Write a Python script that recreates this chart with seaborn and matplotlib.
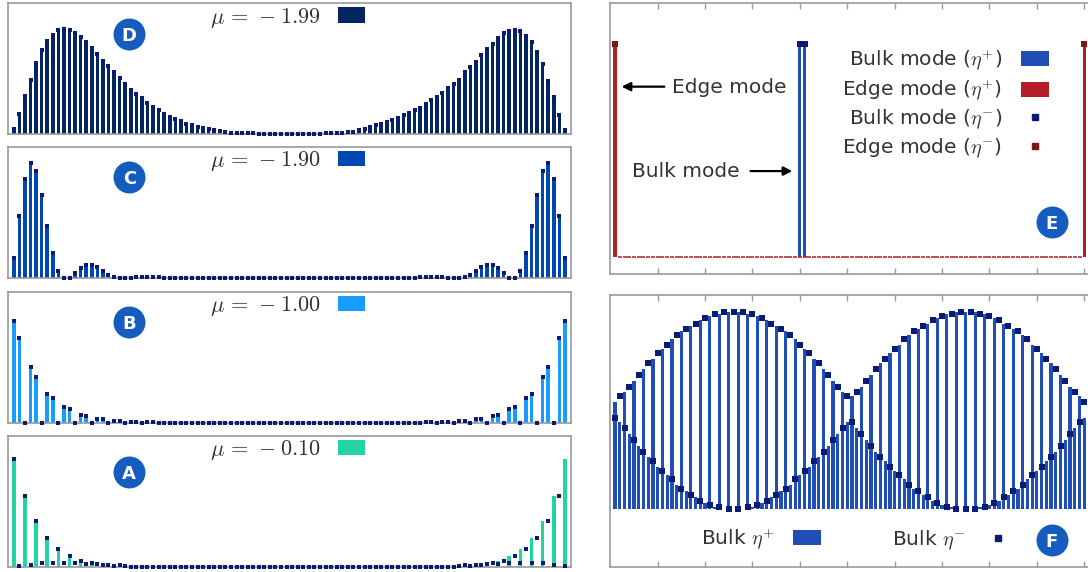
import pandas as pd
import seaborn as sns
import matplotlib.pyplot as plt
from matplotlib.patches import Patch
from matplotlib.lines import Line2D

sites = list(range(1, 101))

# ---- left column: |psi|^2 along the chain for four mu values ----
d_vals = [0.05, 0.19, 0.36, 0.52, 0.68, 0.80, 0.89, 0.95, 0.99, 1.00,
          0.99, 0.96, 0.93, 0.88, 0.82, 0.76, 0.70, 0.65, 0.59, 0.53,
          0.48, 0.42, 0.38, 0.34, 0.30, 0.26, 0.23, 0.19, 0.165, 0.14,
          0.12, 0.10, 0.087, 0.07, 0.058, 0.048, 0.04, 0.03, 0.02, 0.013,
          0.01, 0.008, 0.006, 0.005, 0.004, 0.003, 0.003, 0.002, 0.002, 0.002,
          0.002, 0.002, 0.002, 0.003, 0.003, 0.004, 0.005, 0.006, 0.008, 0.01,
          0.015, 0.023, 0.04, 0.052, 0.065, 0.084, 0.097, 0.115, 0.135, 0.15,
          0.18, 0.20, 0.23, 0.25, 0.29, 0.32, 0.35, 0.39, 0.44, 0.48,
          0.52, 0.59, 0.64, 0.69, 0.75, 0.81, 0.86, 0.92, 0.96, 0.98,
          0.99, 0.98, 0.94, 0.88, 0.78, 0.67, 0.51, 0.35, 0.18, 0.04]

c_vals = [0.175, 0.544, 0.86, 1.0, 0.93, 0.72, 0.456, 0.22, 0.06, 0.003,
          0.0, 0.044, 0.085, 0.114, 0.114, 0.096, 0.06, 0.03, 0.01, 0.0,
          0.0, 0.003, 0.005, 0.012, 0.012, 0.01, 0.005, 0.004, 0.003, 0.002,
          0.001, 0.001, 0.001, 0.001, 0.001, 0.0, 0.0, 0.0, 0.0, 0.0,
          0.0, 0.0, 0.0, 0.0, 0.0, 0.0, 0.0, 0.0, 0.0, 0.0,
          0.0, 0.0, 0.0, 0.0, 0.0, 0.0, 0.0, 0.0, 0.0, 0.0,
          0.0, 0.0, 0.0, 0.0, 0.0, 0.001, 0.001, 0.001, 0.001, 0.001,
          0.002, 0.003, 0.004, 0.005, 0.01, 0.012, 0.012, 0.005, 0.003, 0.0,
          0.0, 0.01, 0.03, 0.06, 0.096, 0.114, 0.114, 0.085, 0.044, 0.0,
          0.003, 0.06, 0.22, 0.456, 0.72, 0.93, 1.0, 0.86, 0.544, 0.175]

b_vals = [1.0, 0.83, 0.0, 0.543, 0.454, 0.0, 0.285, 0.245, 0.0, 0.156,
          0.136, 0.0, 0.076, 0.066, 0.0, 0.036, 0.036, 0.0, 0.017, 0.017,
          0.0, 0.007, 0.007, 0.0, 0.003, 0.003, 0.0, 0.001, 0.001, 0.0,
          0.0, 0.0, 0.0, 0.0, 0.0, 0.0, 0.0, 0.0, 0.0, 0.0,
          0.0, 0.0, 0.0, 0.0, 0.0, 0.0, 0.0, 0.0, 0.0, 0.0,
          0.0, 0.0, 0.0, 0.0, 0.0, 0.0, 0.0, 0.0, 0.0, 0.0,
          0.0, 0.0, 0.0, 0.0, 0.0, 0.0, 0.0, 0.0, 0.0, 0.0,
          0.0, 0.001, 0.001, 0.0, 0.003, 0.003, 0.0, 0.007, 0.007, 0.0,
          0.017, 0.017, 0.0, 0.036, 0.036, 0.0, 0.066, 0.076, 0.0, 0.136,
          0.156, 0.0, 0.245, 0.285, 0.0, 0.454, 0.543, 0.0, 0.83, 1.0]

a_plus = [1.0, 0.0, 0.66, 0.0, 0.43, 0.0, 0.27, 0.0, 0.17, 0.0,
          0.105, 0.0, 0.055, 0.0, 0.02, 0.0, 0.01, 0.0, 0.005, 0.0,
          0.003, 0.0, 0.001, 0.0, 0.0, 0.0, 0.0, 0.0, 0.0, 0.0,
          0.0, 0.0, 0.0, 0.0, 0.0, 0.0, 0.0, 0.0, 0.0, 0.0,
          0.0, 0.0, 0.0, 0.0, 0.0, 0.0, 0.0, 0.0, 0.0, 0.0,
          0.0, 0.0, 0.0, 0.0, 0.0, 0.0, 0.0, 0.0, 0.0, 0.0,
          0.0, 0.0, 0.0, 0.0, 0.0, 0.0, 0.0, 0.0, 0.0, 0.0,
          0.0, 0.0, 0.0, 0.0, 0.0, 0.0, 0.0, 0.001, 0.0, 0.003,
          0.0, 0.005, 0.0, 0.01, 0.0, 0.02, 0.0, 0.055, 0.0, 0.105,
          0.0, 0.17, 0.0, 0.27, 0.0, 0.43, 0.0, 0.66, 0.0, 1.0]

a_minus = [1.0, 0.01, 0.66, 0.025, 0.43, 0.04, 0.27, 0.04, 0.17, 0.04,
           0.105, 0.04, 0.055, 0.03, 0.04, 0.03, 0.025, 0.025, 0.015, 0.025,
           0.015, 0.0, 0.005, 0.0, 0.0, 0.0, 0.0, 0.0, 0.0, 0.0,
           0.0, 0.0, 0.0, 0.0, 0.0, 0.0, 0.0, 0.0, 0.0, 0.0,
           0.0, 0.0, 0.0, 0.0, 0.0, 0.0, 0.0, 0.0, 0.0, 0.0,
           0.0, 0.0, 0.0, 0.0, 0.0, 0.0, 0.0, 0.0, 0.0, 0.0,
           0.0, 0.0, 0.0, 0.0, 0.0, 0.0, 0.0, 0.0, 0.0, 0.0,
           0.0, 0.0, 0.0, 0.0, 0.0, 0.0, 0.0, 0.0, 0.005, 0.0,
           0.015, 0.025, 0.015, 0.025, 0.025, 0.03, 0.04, 0.03, 0.055, 0.04,
           0.105, 0.04, 0.17, 0.04, 0.27, 0.04, 0.43, 0.025, 0.66, 0.01, 1.0][:100]

mu_labels = ["-1.99", "-1.90", "-1.00", "-0.10"]
panel_letters = ["D", "C", "B", "A"]
bar_colors = ["#012660", "#0047b2", "#189cff", "#22d5a0"]
left_values = [(d_vals, d_vals), (c_vals, c_vals), (b_vals, b_vals), (a_plus, a_minus)]
left_ytop = [1.248, 1.145, 1.288, 1.215]

# ---- panel E: edge vs bulk mode ----
edge_plus = [1.0] + [0.0] * 98 + [1.0]
edge_minus = [1.0] + [0.0] * 98 + [1.0]
bulk_plus = [0.0] * 39 + [1.0, 1.0] + [0.0] * 59
bulk_minus = [0.0] * 39 + [1.0, 1.0] + [0.0] * 59

# ---- panel F: a bulk mode, eta+ (bars) and eta- (markers) ----
f_plus = [0.54, 0.44, 0.59, 0.38, 0.65, 0.32, 0.71, 0.26, 0.76, 0.21,
          0.81, 0.17, 0.86, 0.12, 0.90, 0.09, 0.93, 0.06, 0.96, 0.03,
          0.98, 0.01, 0.99, 0.00, 1.00, 0.00, 1.00, 0.00, 0.99, 0.01,
          0.98, 0.03, 0.96, 0.06, 0.93, 0.09, 0.90, 0.12, 0.86, 0.17,
          0.81, 0.21, 0.76, 0.26, 0.71, 0.32, 0.65, 0.38, 0.59, 0.44,
          0.57, 0.41, 0.62, 0.35, 0.68, 0.29, 0.74, 0.24, 0.79, 0.19,
          0.83, 0.15, 0.88, 0.10, 0.91, 0.07, 0.94, 0.04, 0.97, 0.02,
          0.99, 0.01, 1.00, 0.00, 1.00, 0.00, 1.00, 0.01, 0.99, 0.02,
          0.97, 0.04, 0.94, 0.07, 0.91, 0.10, 0.88, 0.15, 0.83, 0.19,
          0.79, 0.24, 0.74, 0.29, 0.68, 0.35, 0.62, 0.41, 0.57, 0.46]
f_minus = [0.46, 0.57, 0.41, 0.62, 0.35, 0.68, 0.29, 0.74, 0.24, 0.79,
           0.19, 0.83, 0.15, 0.88, 0.10, 0.91, 0.07, 0.94, 0.04, 0.97,
           0.02, 0.99, 0.01, 1.00, 0.00, 1.00, 0.00, 1.00, 0.01, 0.99,
           0.02, 0.97, 0.04, 0.94, 0.07, 0.91, 0.10, 0.88, 0.15, 0.83,
           0.19, 0.79, 0.24, 0.74, 0.29, 0.68, 0.35, 0.62, 0.41, 0.57,
           0.44, 0.59, 0.38, 0.65, 0.32, 0.71, 0.26, 0.76, 0.21, 0.81,
           0.17, 0.86, 0.12, 0.90, 0.09, 0.93, 0.06, 0.96, 0.03, 0.98,
           0.01, 0.99, 0.00, 1.00, 0.00, 1.00, 0.00, 0.99, 0.01, 0.98,
           0.03, 0.96, 0.06, 0.93, 0.09, 0.90, 0.12, 0.86, 0.17, 0.81,
           0.21, 0.76, 0.26, 0.71, 0.32, 0.65, 0.38, 0.59, 0.44, 0.54]

navy = "#0b1a74"
blue = "#1f4fb4"
red = "#b31d26"
dark_red = "#7b1a12"
badge_c = "#165cbf"
text_c = "#333333"
W, H = 1088, 572

sns.set_style("white")
plt.rcParams["font.family"] = ["DejaVu Sans"]
plt.rcParams["mathtext.fontset"] = "cm"
plt.rcParams["axes.edgecolor"] = "#9a9a9a"
plt.rcParams["axes.linewidth"] = 1.2

fig = plt.figure(figsize=(W / 100, H / 100), dpi=100)


def px_axes(left, top, right, bottom):
    return fig.add_axes([left / W, 1 - bottom / H, (right - left) / W, (bottom - top) / H])


def badge(ax, x, y, letter):
    ax.scatter([x], [y], s=530, color=badge_c, linewidth=0, transform=ax.transAxes,
               clip_on=False, zorder=6)
    ax.text(x, y, letter, color="white", fontweight="bold", fontsize=13, ha="center",
            va="center_baseline", transform=ax.transAxes, zorder=7)


left_boxes = [(3.3, 134), (146.7, 278), (291.7, 422.7), (435.7, 567.3)]
badge_ys = [0.763, 0.771, 0.771, 0.726]

for k in range(4):
    top, bottom = left_boxes[k]
    ax = px_axes(8.3, top, 570.5, bottom)
    plus, minus = left_values[k]
    df = pd.DataFrame({"site": sites, "plus": plus, "minus": minus})
    sns.barplot(data=df, x="site", y="plus", native_scale=True, color=bar_colors[k],
                saturation=1, width=0.64, linewidth=0, errorbar=None, ax=ax)
    sns.scatterplot(data=df, x="site", y="minus", marker="s", s=12, color=navy,
                    linewidth=0, clip_on=False, zorder=4, ax=ax)
    ax.set_xlim(0, 101)
    ax.set_ylim(0, left_ytop[k])
    ax.set_xticks([])
    ax.set_yticks([])
    ax.set_xlabel("")
    ax.set_ylabel("")
    ax.legend(handles=[Patch(facecolor=bar_colors[k], edgecolor="none")],
              labels=[f"$\\mu\\,=\\,{mu_labels[k]}$"], markerfirst=False, loc="center",
              bbox_to_anchor=(0.497, 0.889), frameon=False, fontsize=16,
              handlelength=1.22, handleheight=0.68, handletextpad=0.8,
              borderpad=0, borderaxespad=0, labelcolor=text_c)
    badge(ax, 0.2152, badge_ys[k], panel_letters[k])


def right_frame(ax, ylo, yhi):
    ax.set_xlim(0, 101)
    ax.set_ylim(ylo, yhi)
    ax.set_xticks(range(10, 101, 10))
    ax.set_yticks([])
    ax.tick_params(axis="x", direction="in", bottom=True, top=True, length=4, width=1,
                   color="#9a9a9a", labelbottom=False)
    ax.set_xlabel("")
    ax.set_ylabel("")


# panel E
axE = px_axes(610.3, 2.7, 1089, 274)
dfE = pd.DataFrame({"site": sites, "edge_plus": edge_plus, "edge_minus": edge_minus,
                    "bulk_plus": bulk_plus, "bulk_minus": bulk_minus})
sns.barplot(data=dfE, x="site", y="bulk_plus", native_scale=True, color=blue,
            saturation=1, width=0.66, linewidth=0, errorbar=None, ax=axE)
sns.barplot(data=dfE, x="site", y="edge_plus", native_scale=True, color=red,
            saturation=1, width=0.66, linewidth=0, errorbar=None, ax=axE)
sns.scatterplot(data=dfE[dfE.bulk_minus > 0], x="site", y="bulk_minus", marker="s", s=18,
                color=navy, linewidth=0, zorder=4, ax=axE)
sns.scatterplot(data=dfE[dfE.edge_minus > 0], x="site", y="edge_minus", marker="s", s=18,
                color=dark_red, linewidth=0, zorder=4, ax=axE)
sns.scatterplot(data=dfE[dfE.edge_minus == 0], x="site", y="edge_minus", marker="_", s=9,
                color=red, linewidth=1.1, zorder=4, ax=axE)
right_frame(axE, -0.081, 1.192)
axE.annotate("", xy=(1.8, 0.798), xytext=(12.0, 0.798),
             arrowprops=dict(arrowstyle="-|>", color="black", lw=1.6, mutation_scale=13))
axE.text(13.0, 0.770, "Edge mode", fontsize=14.5, color=text_c, ha="left", va="baseline")
axE.annotate("", xy=(39.0, 0.402), xytext=(29.0, 0.402),
             arrowprops=dict(arrowstyle="-|>", color="black", lw=1.6, mutation_scale=13))
axE.text(27.3, 0.376, "Bulk mode", fontsize=14.5, color=text_c, ha="right", va="baseline")
e_handles = [Patch(facecolor=blue, edgecolor="none"), Patch(facecolor=red, edgecolor="none"),
             Line2D([], [], marker="s", linestyle="none", markersize=3.8, color=navy),
             Line2D([], [], marker="s", linestyle="none", markersize=3.8, color=dark_red)]
e_labels = ["Bulk mode ($\\eta^{+}$)", "Edge mode ($\\eta^{+}$)",
            "Bulk mode ($\\eta^{-}$)", "Edge mode ($\\eta^{-}$)"]
axE.legend(handles=e_handles, labels=e_labels, markerfirst=False, loc="center",
           bbox_to_anchor=(0.700, 0.628), frameon=False, fontsize=14.5,
           handlelength=1.39, handleheight=0.77, handletextpad=0.93, labelspacing=0.25,
           borderpad=0, borderaxespad=0, labelcolor=text_c)
badge(axE, 0.922, 0.191, "E")

# panel F
axF = px_axes(610.3, 295, 1089, 567)
dfF = pd.DataFrame({"site": sites, "plus": f_plus, "minus": f_minus})
sns.barplot(data=dfF, x="site", y="plus", native_scale=True, color=blue,
            saturation=1, width=0.68, linewidth=0, errorbar=None, ax=axF)
sns.scatterplot(data=dfF, x="site", y="minus", marker="s", s=17, color=navy,
                linewidth=0, zorder=4, ax=axF)
right_frame(axF, -0.296, 1.085)
f_handles = [Patch(facecolor=blue, edgecolor="none"),
             Line2D([], [], marker="s", linestyle="none", markersize=3.8, color=navy)]
axF.legend(handles=f_handles, labels=["Bulk $\\eta^{+}$", "Bulk $\\eta^{-}$"],
           markerfirst=False, loc="center", ncol=2, bbox_to_anchor=(0.514, 0.103),
           frameon=False, fontsize=14.5, handlelength=1.39, handleheight=0.77,
           handletextpad=0.93, columnspacing=3.5, borderpad=0, borderaxespad=0,
           labelcolor=text_c)
badge(axF, 0.922, 0.099, "F")

fig.savefig("out.png", dpi=100)
